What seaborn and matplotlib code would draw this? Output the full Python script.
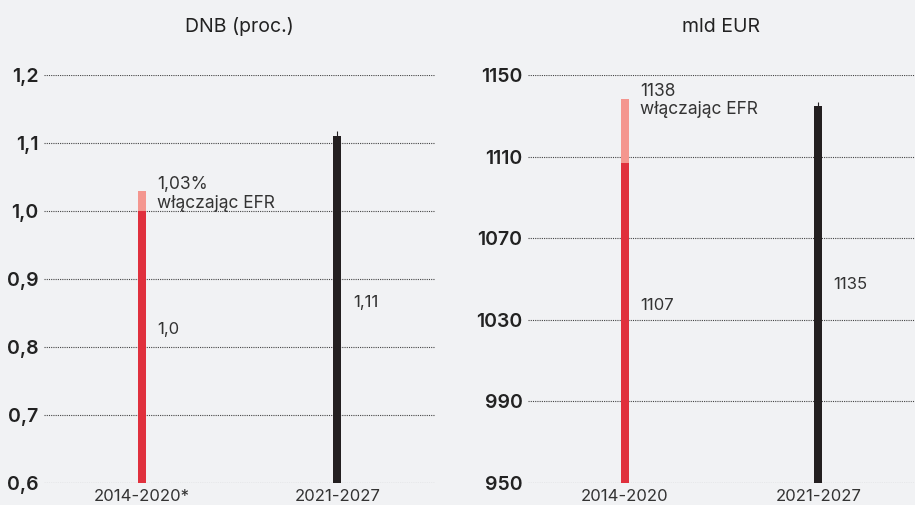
import matplotlib
matplotlib.use("Agg")
import matplotlib.pyplot as plt
import seaborn as sns
import pandas as pd

# --- data ---
periods_gni = ["2014-2020*", "2021-2027"]
periods_eur = ["2014-2020", "2021-2027"]
gni_base = [1.00, 1.11]          # % of GNI
gni_with_efr = [1.03, 1.11]      # including EFR
eur_base = [1107, 1135]          # bn EUR
eur_with_efr = [1138, 1135]      # including EFR
gni_ticks = [0.6, 0.7, 0.8, 0.9, 1.0, 1.1, 1.2]
gni_tick_labels = ["0,6", "0,7", "0,8", "0,9", "1,0", "1,1", "1,2"]
eur_ticks = [950, 990, 1030, 1070, 1110, 1150]
eur_tick_labels = ["950", "990", "1030", "1070", "1110", "1150"]
gni_value_labels = ["1,0", "1,11"]
eur_value_labels = ["1107", "1135"]
efr_labels = ["1,03%\nwłączając EFR", "1138\nwłączając EFR"]
titles = ["DNB (proc.)", "mld EUR"]

BG = "#f1f2f4"
RED = "#e0303d"
PINK = "#f4968f"
BLACK = "#231f20"
TEXT = "#333333"

sns.set_theme(style="white")
plt.rcParams["font.family"] = ["Inter", "DejaVu Sans"]

fig = plt.figure(figsize=(9.15, 5.05), dpi=100, facecolor=BG)

W, H = 915, 505


def panel(x0, x1, periods, base, total, ticks, tick_labels, ylim,
          value_labels, efr_label, title, val_pos, efr_pos, cap):
    y0, y1 = 483, 75
    ax = fig.add_axes([x0 / W, (H - y0) / H, (x1 - x0) / W, (y0 - y1) / H])
    ax.set_facecolor(BG)
    df_total = pd.DataFrame({"period": periods, "value": total})
    df_base = pd.DataFrame({"period": periods, "value": base})
    # lighter segment for the EFR top-up, base bars drawn over it
    sns.barplot(data=df_total, x="period", y="value", ax=ax, width=0.042,
                palette=[PINK, BLACK], hue="period", legend=False,
                saturation=1, errorbar=None, linewidth=0)
    sns.barplot(data=df_base, x="period", y="value", ax=ax, width=0.042,
                palette=[RED, BLACK], hue="period", legend=False,
                saturation=1, errorbar=None, linewidth=0)
    # thin whisker above the second bar
    ax.plot([1, 1], [base[1], base[1] + cap], color=BLACK, lw=0.8,
            solid_capstyle="butt")
    ax.set_xlim(-0.5, 1.5)
    ax.set_ylim(*ylim)
    ax.set_yticks(ticks)
    ax.set_yticklabels(tick_labels, fontsize=14, fontweight="semibold",
                       color="#222222")
    ax.tick_params(axis="y", length=0, pad=4)
    ax.tick_params(axis="x", length=0, pad=4, labelsize=12,
                   labelcolor=TEXT)
    for t in ticks:
        ax.axhline(t, color="#444444", lw=0.8, ls=(0, (1, 1)), zorder=0)
    for s in ax.spines.values():
        s.set_visible(False)
    ax.set_xlabel("")
    ax.set_ylabel("")
    ax.set_title(title, fontsize=14, color="#222222", pad=31)
    for i, (lab, yv) in enumerate(zip(value_labels, val_pos)):
        ax.text(i + 0.08, yv, lab, fontsize=12, color=TEXT, va="center")
    ax.text(0.08, efr_pos, efr_label, fontsize=12.5, color=TEXT,
            va="center", linespacing=1.15)
    return ax


panel(44, 435, periods_gni, gni_base, gni_with_efr, gni_ticks,
      gni_tick_labels, (0.6, 1.2), gni_value_labels, efr_labels[0],
      titles[0], [0.825, 0.866], 1.025, 0.008)
panel(528, 915, periods_eur, eur_base, eur_with_efr, eur_ticks,
      eur_tick_labels, (950, 1150), eur_value_labels, efr_labels[1],
      titles[1], [1037, 1047.5], 1137.5, 2)

fig.savefig("out.png", dpi=100, facecolor=BG)
